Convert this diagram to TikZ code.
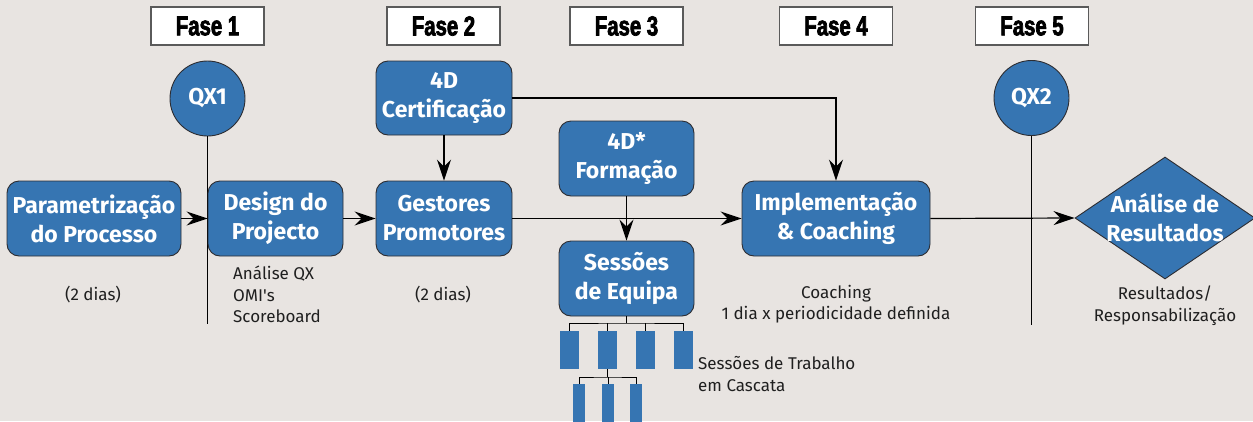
\documentclass[tikz,border=0pt]{standalone}
\usepackage{fontspec}
\setmainfont{Fira Sans}
\newfontfamily\fasefam[FakeStretch=0.74,FakeBold=2.6]{Liberation Sans}
\usetikzlibrary{shapes.geometric,arrows.meta}
\definecolor{bgcol}{RGB}{232,228,225}
\definecolor{blueF}{RGB}{54,117,178}
\definecolor{boxedge}{RGB}{45,45,50}
\definecolor{faseedge}{RGB}{90,90,90}
\newcommand\boldtxt{\fontsize{23}{29}\selectfont\bfseries}
\newcommand\lbltxt{\fontsize{17}{21.5}\selectfont}
\newcommand\fasetxt{\fasefam\bfseries\fontsize{27.5}{27.5}\selectfont}
\tikzset{
  bluebox/.style={draw=boxedge, line width=0.9pt, fill=blueF, rounded corners=12pt,
    text=white, font=\boldtxt, align=center, inner sep=0pt},
  qxcircle/.style={circle, draw=boxedge, line width=0.9pt, fill=blueF, text=white,
    font=\boldtxt, minimum size=75pt, inner sep=0pt},
  fasebox/.style={draw=faseedge, line width=1.2pt, fill=white, minimum width=113pt,
    minimum height=38pt, inner sep=0pt, font=\fasetxt},
  lbl/.style={font=\lbltxt, text=black!88, inner sep=0pt},
  arr/.style={-{Stealth[length=21pt,width=14pt,inset=7pt]}, line width=1.2pt},
  plainline/.style={line width=1.2pt},
  casc/.style={fill=blueF, draw=none, inner sep=0pt},
  cline/.style={line width=1pt}
}
\begin{document}
\begin{tikzpicture}[x=1pt,y=-1pt]
\fill[bgcol] (0,0) rectangle (1253,421);
\useasboundingbox (0,0) rectangle (1253,421);
\clip (0,0) rectangle (1253,421);

% Phase headers
\node[fasebox] (f1) at (207.5,26) {Fase 1};
\node[fasebox] (f2) at (443.5,26) {Fase 2};
\node[fasebox] (f3) at (626.5,26) {Fase 3};
\node[fasebox] (f4) at (836,26) {Fase 4};
\node[fasebox] (f5) at (1032,26) {Fase 5};

% circles and their vertical lines
\node[qxcircle] (qx1) at (207.5,98.5) {QX1};
\node[qxcircle] (qx2) at (1031.5,98) {QX2};
\coordinate (qx1end) at (207.5,324);
\coordinate (qx2end) at (1031.5,325);
\draw[plainline] (qx1.south) -- (qx1end);
\draw[plainline] (qx2.south) -- (qx2end);

% main boxes
\node[bluebox, minimum width=174pt, minimum height=75pt] (param) at (94,218.5) {Parametrização\\do Processo};
\node[bluebox, minimum width=135pt, minimum height=75pt] (design) at (275.5,218.5) {Design do\\Projecto};
\node[bluebox, minimum width=136pt, minimum height=75pt] (gest) at (444,218.5) {Gestores\\Promotores};
\node[bluebox, minimum width=136pt, minimum height=74pt] (cert) at (444,98) {4D\\Certificação};
\node[bluebox, minimum width=135pt, minimum height=75pt] (form) at (626.5,158.5) {4D*\\Formação};
\node[bluebox, minimum width=135pt, minimum height=75pt] (sess) at (626.5,278.5) {Sessões\\de Equipa};
\node[bluebox, minimum width=188pt, minimum height=75pt] (impl) at (836,218.5) {Implementação\\\& Coaching};
\node[diamond, draw=boxedge, line width=0.9pt, fill=blueF, minimum width=180pt,
      minimum height=122pt, inner sep=0pt,
      label={[text=white, font=\boldtxt, align=center]center:{Análise de\\Resultados}}]
      (res) at (1165,218) {};

% connectors
\draw[arr] (param.east) -- (design.west);
\draw[arr] (design.east) -- (gest.west);
\draw[arr] (gest.east) -- (impl.west);
\draw[arr] (cert.south) -- (gest.north);
\draw[arr] (cert.east) -| (impl.north);
\draw[arr] (form.south) -- (sess.north);
\draw[arr] (impl.east) -- (res.west);

% cascade
\foreach \i/\x in {1/569.5,2/607.5,3/645.5,4/683.5}
  \node[casc, minimum width=19pt, minimum height=38pt] (c\i) at (\x,350) {};
\foreach \i/\x in {1/579,2/608,3/636}
  \node[casc, minimum width=12pt, minimum height=44pt] (d\i) at (\x,406) {};
\coordinate (j1) at (626.5,323);
\coordinate (j2) at (607.5,377);
\draw[cline] (sess.south) -- (j1);
\draw[cline] (c1.north) |- (j1) -| (c4.north);
\draw[cline] (c2.north) -- (c2.north |- j1);
\draw[cline] (c3.north) -- (c3.north |- j1);
\draw[cline] (c2.south) -- (j2);
\draw[cline] (d1.north) |- (j2) -| (d3.north);
\draw[cline] (d2.north) -- (d2.north |- j2);

% labels
\node[lbl] (l1) at (93,295) {(2 dias)};
\node[lbl, align=left, anchor=west] (l2) at (233,294.5) {Análise QX\\OMI\textquotesingle s\\Scoreboard};
\node[lbl] (l3) at (443,295) {(2 dias)};
\node[lbl, align=center] (l4) at (836,304) {Coaching\\1 dia x periodicidade definida};
\node[lbl, align=center] (l5) at (1165,305.5) {Resultados/\\Responsabilização};
\node[lbl, align=left, anchor=west] (l6) at (698,374) {Sessões de Trabalho\\em Cascata};
\end{tikzpicture}
\end{document}
